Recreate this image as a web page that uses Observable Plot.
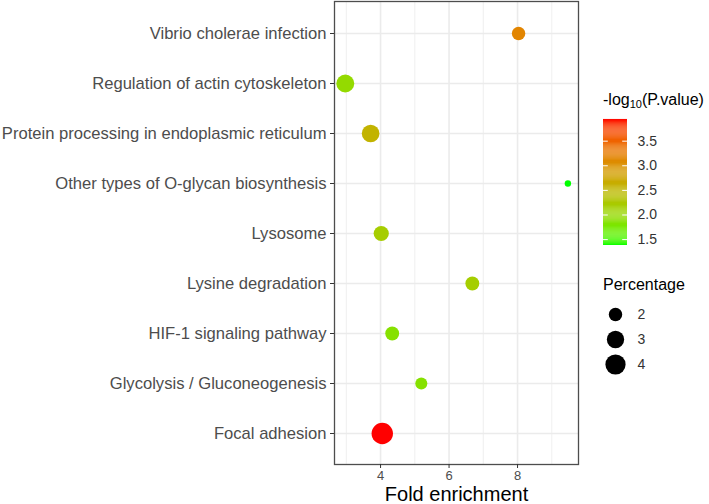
<!DOCTYPE html>
<html>
<head>
<meta charset="utf-8">
<script src="https://cdn.jsdelivr.net/npm/d3@7"></script>
<script src="https://cdn.jsdelivr.net/npm/@observablehq/plot@0.6"></script>
<style>
  html, body { margin: 0; padding: 0; background: #fff; }
  #chart { position: relative; width: 709px; height: 504px; font-family: "Liberation Sans", Arial, sans-serif; }
  #chart svg { position: absolute; left: 0; top: 0; }
  .ttl { position: absolute; font-size: 16px; color: #000; white-space: nowrap; line-height: 1; }
  .ttl sub { font-size: 11px; vertical-align: -3px; line-height: 0; }
</style>
</head>
<body>
<div id="chart"></div>
<script>
// ---- data ----
const pathways = [
  "Vibrio cholerae infection",
  "Regulation of actin cytoskeleton",
  "Protein processing in endoplasmic reticulum",
  "Other types of O-glycan biosynthesis",
  "Lysosome",
  "Lysine degradation",
  "HIF-1 signaling pathway",
  "Glycolysis / Gluconeogenesis",
  "Focal adhesion"
];
const foldEnrichment = [8.03, 2.97, 3.71, 9.47, 4.02, 6.68, 4.34, 5.19, 4.05];
const negLog10P = [3.15, 1.98, 2.55, 1.38, 2.18, 2.16, 1.86, 1.86, 3.94];
const percentage = [2.0, 3.2, 3.1, 1.3, 2.4, 2.1, 2.1, 1.75, 4.5];
const xTicks = [4, 6, 8];
const xMinorTicks = [3, 5, 7, 9];
const colorBreaks = [1.5, 2.0, 2.5, 3.0, 3.5];
const sizeBreaks = [2, 3, 4];

const data = pathways.map((p, i) => ({
  path: p, fold: foldEnrichment[i], logp: negLog10P[i], pct: percentage[i]
}));

const [pMin, pMax] = d3.extent(percentage);
const [cMin, cMax] = d3.extent(negLog10P);
// ggplot-style area palette: sqrt of rescaled value
const areaT = v => Math.sqrt(Math.max(0, Math.min(1, (v - pMin) / (pMax - pMin))));

const W = 709, H = 504;
const font = "Liberation Sans, Arial, sans-serif";
const colorScale = {type: "linear", domain: [cMin, cMax], range: ["#00ff00", "#ff0000"], interpolate: d3.interpolateLab};
const rScale = {type: "linear", domain: [0, 1], range: [3.2, 10.7]};

const chart = document.getElementById("chart");

// ---- main panel ----
const main = Plot.plot({
  width: W, height: H,
  marginLeft: 334, marginRight: 131, marginTop: 1, marginBottom: 40,
  style: {fontFamily: font, background: "transparent", overflow: "visible"},
  x: {domain: [2.655, 9.78]},
  y: {type: "point", domain: pathways, padding: 0.6},
  color: colorScale,
  r: rScale,
  marks: [
    Plot.gridX(xMinorTicks, {stroke: "#ebebeb", strokeOpacity: 1, strokeWidth: 0.8}),
    Plot.gridX(xTicks, {stroke: "#ebebeb", strokeOpacity: 1, strokeWidth: 1.6}),
    Plot.gridY(pathways, {stroke: "#ebebeb", strokeOpacity: 1, strokeWidth: 1.6}),
    Plot.dot(data, {x: "fold", y: "path", r: d => areaT(d.pct), fill: "logp", stroke: null}),
    Plot.frame({stroke: "#4d4d4d", strokeWidth: 1.3}),
    Plot.axisX(xTicks, {tickSize: 4, tickPadding: 2, fontSize: 13, fill: "#4d4d4d", stroke: "#333", label: null}),
    Plot.axisY({tickSize: 4, tickPadding: 4, fontSize: 16.6, fill: "#4d4d4d", stroke: "#333", label: null}),
    Plot.text(["Fold enrichment"], {frameAnchor: "bottom", lineAnchor: "middle", dy: 30, fontSize: 20, fill: "#000"})
  ]
});
chart.appendChild(main);

// ---- colour bar legend ----
const nBins = 120;
const step = (cMax - cMin) / nBins;
const bins = d3.range(nBins).map(i => cMin + i * step);
const cbar = Plot.plot({
  width: W, height: H,
  marginLeft: 603, marginRight: W - 627, marginTop: 119, marginBottom: H - 245,
  style: {fontFamily: font, background: "transparent", overflow: "visible"},
  x: {domain: [0, 1], axis: null},
  y: {domain: [cMin, cMax], axis: null},
  color: colorScale,
  marks: [
    Plot.rect(bins, {x1: 0, x2: 1, y1: d => d, y2: d => d + step * 1.05, fill: d => d + step / 2}),
    Plot.ruleY(colorBreaks, {x1: 0, x2: 0.2, stroke: "white", strokeWidth: 1}),
    Plot.ruleY(colorBreaks, {x1: 0.8, x2: 1, stroke: "white", strokeWidth: 1}),
    Plot.text(colorBreaks, {x: 1, y: d => d, dx: 10, textAnchor: "start", text: d => d.toFixed(1), fontSize: 14, fill: "#333"})
  ]
});
chart.appendChild(cbar);

// ---- size legend ----
const sizeLeg = Plot.plot({
  width: W, height: H,
  marginLeft: 603, marginRight: W - 627, marginTop: 300, marginBottom: H - 377,
  style: {fontFamily: font, background: "transparent", overflow: "visible"},
  x: {domain: [0, 1], axis: null},
  y: {type: "point", domain: sizeBreaks, padding: 0.5, axis: null},
  r: rScale,
  marks: [
    Plot.dot(sizeBreaks, {x: 0.5, y: d => d, r: d => areaT(d), fill: "#000", stroke: null}),
    Plot.text(sizeBreaks, {x: 1, y: d => d, dx: 10, textAnchor: "start", text: d => String(d), fontSize: 14, fill: "#333"})
  ]
});
chart.appendChild(sizeLeg);

// ---- legend titles ----
const t1 = document.createElement("div");
t1.className = "ttl";
t1.style.left = "603px"; t1.style.top = "92px";
t1.innerHTML = "-log<sub>10</sub>(P.value)";
chart.appendChild(t1);

const t2 = document.createElement("div");
t2.className = "ttl";
t2.style.left = "603px"; t2.style.top = "277px";
t2.textContent = "Percentage";
chart.appendChild(t2);
</script>
</body>
</html>
